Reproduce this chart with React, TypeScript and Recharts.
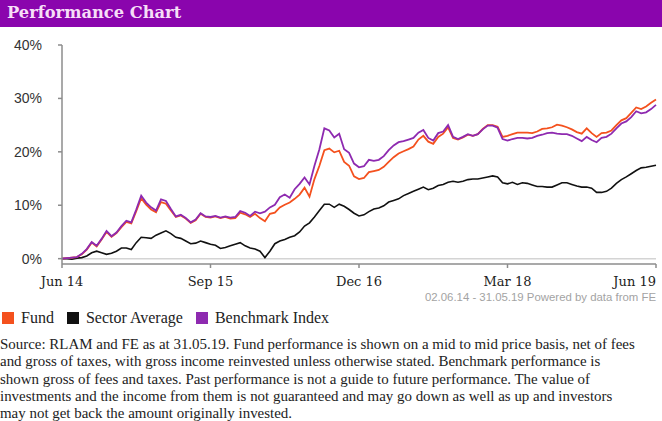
import React from "react";
import { LineChart, Line, XAxis, YAxis, ReferenceLine } from "recharts";

// month offsets from Jun 14 (half-month steps)
const months = [
  0, 0.5, 1, 1.5, 2, 2.5, 3, 3.5, 4, 4.5,
  5, 5.5, 6, 6.5, 7, 7.5, 8, 8.5, 9, 9.5,
  10, 10.5, 11, 11.5, 12, 12.5, 13, 13.5, 14, 14.5,
  15, 15.5, 16, 16.5, 17, 17.5, 18, 18.5, 19, 19.5,
  20, 20.5, 21, 21.5, 22, 22.5, 23, 23.5, 24, 24.5,
  25, 25.5, 26, 26.5, 27, 27.5, 28, 28.5, 29, 29.5,
  30, 30.5, 31, 31.5, 32, 32.5, 33, 33.5, 34, 34.5,
  35, 35.5, 36, 36.5, 37, 37.5, 38, 38.5, 39, 39.5,
  40, 40.5, 41, 41.5, 42, 42.5, 43, 43.5, 44, 44.5,
  45, 45.5, 46, 46.5, 47, 47.5, 48, 48.5, 49, 49.5,
  50, 50.5, 51, 51.5, 52, 52.5, 53, 53.5, 54, 54.5,
  55, 55.5, 56, 56.5, 57, 57.5, 58, 58.5, 59, 59.5,
  60,
];

const fund = [
  0, 0.1, 0.2, 0.3, 0.8, 1.7, 3.0, 2.3, 3.6, 5.0,
  4.1, 4.8, 5.9, 6.9, 6.6, 8.9, 11.3, 10.1, 9.2, 8.7,
  10.6, 10.3, 9.0, 7.8, 8.1, 7.5, 6.7, 7.2, 8.4, 7.8,
  7.7, 7.9, 7.6, 7.8, 7.5, 7.6, 8.6, 8.3, 7.8, 8.4,
  7.6, 7.0, 8.4, 8.6, 9.6, 10.1, 10.5, 11.2, 12.0, 13.3,
  11.6, 14.9, 17.4, 20.3, 20.6, 19.9, 20.2, 18.1, 17.4, 15.4,
  14.9, 15.1, 16.2, 16.4, 16.6, 17.2, 18.1, 19.0, 19.7, 20.1,
  20.5, 21.0, 22.3, 23.0, 21.9, 21.5, 22.8, 23.4, 24.6, 22.6,
  22.3, 22.7, 23.2, 23.0, 23.3, 24.3, 25.0, 25.0, 24.7, 22.8,
  23.0, 23.3, 23.6, 23.6, 23.6, 23.5, 23.8, 24.3, 24.4, 24.6,
  25.1, 24.9, 24.6, 24.2, 23.7, 23.4, 24.4, 23.5, 22.8, 23.5,
  23.6, 24.0, 25.0, 25.9, 26.3, 27.3, 28.3, 28.0, 28.5, 29.2,
  29.8,
];

const sector = [
  0, 0.0, -0.1, 0.1, 0.2, 0.5, 1.1, 1.4, 1.1, 0.8,
  1.0, 1.4, 2.0, 2.0, 1.7, 3.0, 4.0, 3.9, 3.8, 4.4,
  4.8, 5.2, 4.7, 4.0, 3.8, 3.3, 2.8, 2.9, 3.3, 3.0,
  2.7, 2.5, 1.9, 2.1, 2.4, 2.7, 3.0, 2.4, 2.0, 1.8,
  1.4, 0.2, 1.4, 2.8, 3.3, 3.6, 4.0, 4.3, 5.0, 6.1,
  6.7, 7.8, 9.0, 10.2, 10.2, 9.6, 10.2, 9.8, 9.2, 8.5,
  8.0, 8.2, 8.8, 9.3, 9.5, 9.9, 10.6, 10.9, 11.2, 11.8,
  12.2, 12.6, 13.0, 13.4, 12.9, 13.2, 13.7, 13.9, 14.3, 14.5,
  14.3, 14.5, 14.8, 14.9, 14.9, 15.1, 15.3, 15.5, 15.3, 14.2,
  14.0, 14.3, 13.9, 14.2, 14.1, 13.8, 13.5, 13.5, 13.4, 13.4,
  13.8, 14.2, 14.2, 13.9, 13.6, 13.4, 13.4, 13.2, 12.4, 12.4,
  12.6, 13.2, 14.1, 14.8, 15.3, 15.9, 16.5, 17.0, 17.1, 17.3,
  17.5,
];

const benchmark = [
  0, 0.1, 0.2, 0.3, 0.9, 1.8, 3.1, 2.4, 3.7, 5.2,
  4.2, 4.9, 6.1, 7.1, 6.8, 9.2, 11.8, 10.5, 9.6, 9.0,
  11.1, 10.8, 9.3, 7.9, 8.2, 7.6, 6.8, 7.3, 8.5, 7.9,
  7.8, 8.0, 7.7, 7.9, 7.7, 7.8, 8.9, 8.6, 8.0, 8.8,
  8.5, 8.8, 9.6, 10.1, 11.5, 12.0, 11.4, 13.0, 14.0, 15.2,
  13.9, 17.4, 20.5, 24.4, 24.0, 22.7, 23.4, 20.5, 19.8, 17.8,
  17.1, 17.3, 18.5, 18.3, 18.5, 19.2, 20.3, 21.2, 21.8, 22.0,
  22.3, 22.6, 23.6, 24.1, 22.6, 22.1, 23.5, 23.8, 25.0, 22.8,
  22.4, 22.8, 23.3, 23.0, 23.3, 24.2, 24.9, 24.9, 24.5, 22.4,
  22.1, 22.4, 22.6, 22.6, 22.5, 22.6, 23.0, 23.2, 23.5, 23.6,
  23.4, 23.3, 23.3, 23.0, 22.5, 22.0, 22.8, 22.2, 21.8, 22.6,
  22.8, 23.4, 24.4, 25.3, 25.7, 26.5, 27.6, 27.2, 27.4, 28.0,
  28.8,
];

const xTicks = [0, 15, 30, 45, 60];
const xLabels = ["Jun 14", "Sep 15", "Dec 16", "Mar 18", "Jun 19"];
const yTicks = [0, 10, 20, 30, 40];

const sourceLines = [
  "Source: RLAM and FE as at 31.05.19. Fund performance is shown on a mid to mid price basis, net of fees",
  "and gross of taxes, with gross income reinvested unless otherwise stated. Benchmark performance is",
  "shown gross of fees and taxes. Past performance is not a guide to future performance. The value of",
  "investments and the income from them is not guaranteed and may go down as well as up and investors",
  "may not get back the amount originally invested.",
];

const FUND = "#f4511e";
const SECTOR = "#111111";
const BENCH = "#8e2ab0";
const SERIF = "'DejaVu Serif', Georgia, serif";
const TEXT_SERIF = "'Liberation Serif', 'Times New Roman', serif";
const SANS = "'Liberation Sans', Arial, sans-serif";

const chartData = months.map((m, i) => ({
  m,
  fund: fund[i],
  sector: sector[i],
  benchmark: benchmark[i],
}));

const XTick = (props: any) => {
  const { x, y, payload } = props;
  const idx = xTicks.indexOf(payload.value);
  const last = idx === xTicks.length - 1;
  return (
    <text
      x={x}
      y={y + 16}
      textAnchor={last ? "end" : "middle"}
      fontFamily={SERIF}
      fontSize={13}
      fill="#222"
    >
      {xLabels[idx]}
    </text>
  );
};

const YTick = (props: any) => {
  const { x, y, payload } = props;
  return (
    <text x={x - 14} y={y + 5} textAnchor="end" fontFamily={SANS} fontSize={14} fill="#333">
      {payload.value}%
    </text>
  );
};

const swatch = (color: string) => (
  <span
    style={{
      display: "inline-block",
      width: 12,
      height: 12,
      background: color,
      marginRight: 7,
      verticalAlign: "-1px",
    }}
  />
);

export default function App() {
  return (
    <div
      style={{
        position: "absolute",
        left: 0,
        top: 0,
        width: 662,
        height: 421,
        background: "#fff",
        overflow: "hidden",
      }}
    >
      {/* header band */}
      <div
        style={{
          position: "absolute",
          left: 0,
          top: 0,
          width: 662,
          height: 27,
          background: "#8a05ad",
          color: "#f6def7",
          fontFamily: SERIF,
          fontWeight: "bold",
          fontSize: 16.3,
          lineHeight: "26px",
          paddingLeft: 7,
          boxSizing: "border-box",
        }}
      >
        Performance Chart
      </div>

      <div style={{ position: "absolute", left: 0, top: 0 }}>
        <LineChart
          width={662}
          height={300}
          data={chartData}
          margin={{ top: 45, right: 6, bottom: 6, left: 0 }}
        >
          <XAxis
            dataKey="m"
            type="number"
            domain={[0, 60]}
            ticks={xTicks}
            tick={<XTick />}
            tickSize={4}
            height={30}
            stroke="#8c8c8c"
            strokeWidth={1.5}
            interval={0}
          />
          <YAxis
            type="number"
            domain={[-1, 40]}
            ticks={yTicks}
            tick={<YTick />}
            tickSize={4}
            width={62}
            stroke="#8c8c8c"
            strokeWidth={1.5}
            interval={0}
          />
          <ReferenceLine y={0} stroke="#d4d4d4" strokeWidth={1.5} />
          <Line dataKey="sector" stroke={SECTOR} strokeWidth={1.6} dot={false} isAnimationActive={false} />
          <Line dataKey="fund" stroke={FUND} strokeWidth={1.8} dot={false} isAnimationActive={false} />
          <Line dataKey="benchmark" stroke={BENCH} strokeWidth={1.8} dot={false} isAnimationActive={false} />
        </LineChart>
      </div>

      {/* data credit */}
      <div
        style={{
          position: "absolute",
          right: 6,
          top: 291,
          fontFamily: SANS,
          fontSize: 11.4,
          color: "#a3a3a3",
          whiteSpace: "nowrap",
        }}
      >
        02.06.14 - 31.05.19 Powered by data from FE
      </div>

      {/* legend */}
      <div
        style={{
          position: "absolute",
          left: 2,
          top: 309,
          fontFamily: TEXT_SERIF,
          fontSize: 16,
          color: "#222",
          whiteSpace: "nowrap",
        }}
      >
        <span style={{ marginRight: 13 }}>{swatch(FUND)}Fund</span>
        <span style={{ marginRight: 13 }}>{swatch(SECTOR)}Sector Average</span>
        <span>{swatch(BENCH)}Benchmark Index</span>
      </div>

      {/* source note */}
      <div
        style={{
          position: "absolute",
          left: 0,
          top: 336,
          fontFamily: TEXT_SERIF,
          fontSize: 14.95,
          lineHeight: "17.3px",
          color: "#222",
          whiteSpace: "nowrap",
        }}
      >
        {sourceLines.map((l) => (
          <div key={l}>{l}</div>
        ))}
      </div>
    </div>
  );
}
